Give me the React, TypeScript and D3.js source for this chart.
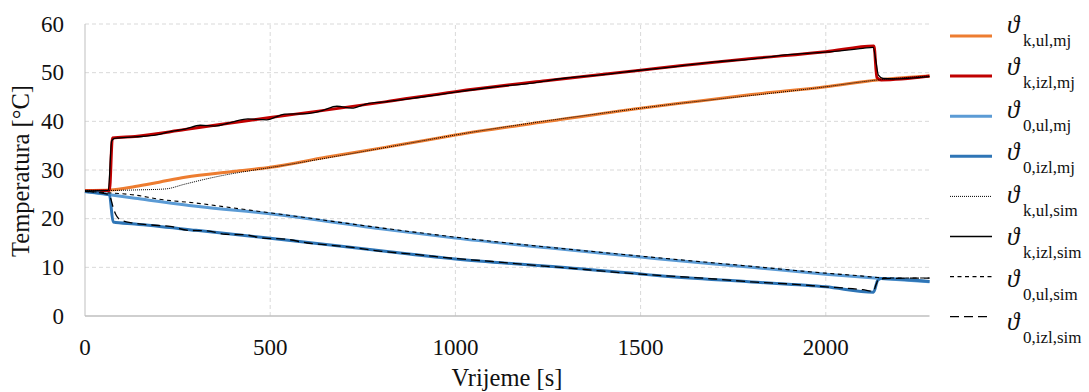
import React from "react";
import * as d3 from "d3";

// ---- data (time [s], temperature [°C]) ----
const tKUlMj = [0, 67, 135, 200, 270, 400, 500, 650, 810, 913, 1000, 1250, 1500, 1606, 1800, 2000, 2140, 2280];
const vKUlMj = [25.8, 25.9, 26.6, 27.5, 28.5, 29.7, 30.55, 32.6, 34.65, 36.0, 37.2, 40.0, 42.7, 43.7, 45.5, 47.1, 48.5, 49.3];

const tKIzlMj = [0, 66, 74, 135, 270, 500, 630, 810, 1000, 1250, 1500, 1606, 1800, 2000, 2130, 2138, 2150, 2280];
const vKIzlMj = [25.7, 25.8, 36.6, 36.9, 38.3, 40.8, 42.1, 44.0, 46.1, 48.4, 50.5, 51.4, 52.9, 54.3, 55.5, 49.0, 48.5, 49.3];

const t0UlMj = [0, 67, 135, 306, 500, 810, 1000, 1250, 1500, 1552, 1800, 2000, 2140, 2280];
const v0UlMj = [25.6, 24.9, 24.2, 22.5, 21.0, 17.8, 16.0, 14.0, 12.1, 11.7, 10.0, 8.6, 7.75, 7.05];

const t0IzlMj = [0, 66, 76, 135, 300, 500, 810, 1000, 1250, 1500, 1552, 1800, 2000, 2129, 2140, 2150, 2280];
const v0IzlMj = [25.6, 24.9, 19.3, 18.9, 17.6, 15.96, 13.3, 11.7, 10.2, 8.63, 8.25, 7.0, 6.0, 4.9, 7.3, 7.7, 7.1];

const tKUlSim = [0, 67, 135, 216, 270, 324, 380, 450, 500, 810, 1000, 1500, 2000, 2140, 2280];
const vKUlSim = [25.8, 25.8, 25.9, 26.1, 27.1, 28.1, 29.0, 29.9, 30.5, 34.6, 37.2, 42.7, 47.1, 48.5, 49.3];

const tKIzlSim = [0, 63, 72, 80, 135, 193, 230, 270, 311, 350, 400, 440, 490, 540, 600, 640, 680, 720, 760, 810, 900, 1000, 1100, 1200, 1300, 1400, 1500, 1600, 1700, 1800, 1900, 2000, 2100, 2128, 2136, 2142, 2155, 2180, 2280];
const vKIzlSim = [25.7, 25.8, 36.0, 36.5, 36.8, 37.2, 37.9, 38.4, 39.2, 39.0, 39.9, 40.5, 40.3, 41.5, 41.6, 42.2, 43.1, 42.7, 43.6, 44.0, 44.9, 46.0, 47.0, 47.8, 48.9, 49.6, 50.5, 51.3, 52.2, 52.8, 53.7, 54.2, 55.0, 55.2, 52.0, 49.5, 48.8, 48.7, 49.2];

const t0UlSim = [0, 67, 135, 200, 306, 400, 500, 810, 1000, 1500, 1800, 2000, 2100, 2140, 2200, 2280];
const v0UlSim = [25.6, 25.3, 24.85, 24.0, 23.15, 22.2, 21.2, 18.0, 16.2, 12.3, 10.2, 8.8, 8.2, 7.9, 7.8, 7.8];

const t0IzlSim = [0, 64, 70, 76, 85, 100, 130, 180, 230, 280, 330, 380, 430, 480, 540, 600, 700, 800, 900, 1000, 1100, 1200, 1300, 1400, 1500, 1600, 1700, 1800, 1900, 2000, 2100, 2128, 2136, 2142, 2160, 2280];
const v0IzlSim = [25.6, 25.0, 24.0, 22.3, 20.6, 19.6, 19.1, 18.7, 18.4, 17.6, 17.5, 16.8, 16.7, 16.0, 15.8, 15.0, 14.3, 13.3, 12.6, 11.8, 11.2, 10.5, 9.9, 9.2, 8.6, 8.1, 7.6, 7.0, 6.6, 6.0, 5.4, 5.1, 6.5, 7.5, 7.7, 7.8];

const xTicks = [0, 500, 1000, 1500, 2000];
const yTicks = [0, 10, 20, 30, 40, 50, 60];
const legendSubs = ["k,ul,mj", "k,izl,mj", "0,ul,mj", "0,izl,mj", "k,ul,sim", "k,izl,sim", "0,ul,sim", "0,izl,sim"];

const series = [
  { t: tKUlMj, v: vKUlMj, color: "#ED7D31", w: 3, dash: "" },
  { t: tKIzlMj, v: vKIzlMj, color: "#C00000", w: 3, dash: "" },
  { t: t0UlMj, v: v0UlMj, color: "#5B9BD5", w: 3, dash: "" },
  { t: t0IzlMj, v: v0IzlMj, color: "#2E75B6", w: 3, dash: "" },
  { t: tKUlSim, v: vKUlSim, color: "#000", w: 1, dash: "1,1" },
  { t: tKIzlSim, v: vKIzlSim, color: "#000", w: 1.3, dash: "" },
  { t: t0UlSim, v: v0UlSim, color: "#000", w: 1.1, dash: "4,3.5" },
  { t: t0IzlSim, v: v0IzlSim, color: "#000", w: 1.3, dash: "9,5" },
];

const FONT = "Liberation Serif, Tinos, serif";

export default function App() {
  const x = d3.scaleLinear().domain([0, 2280]).range([85, 929.5]);
  const y = d3.scaleLinear().domain([0, 60]).range([316, 24]);
  const line = d3
    .line<[number, number]>()
    .x((d) => x(d[0]))
    .y((d) => y(d[1]))
    .curve(d3.curveMonotoneX);

  const txt = { fontFamily: FONT, fill: "#111" } as React.CSSProperties;

  return (
    <svg width={1089} height={392} style={{ position: "absolute", left: 0, top: 0, background: "#fff" }}>
      {/* grid */}
      {yTicks.filter((v) => v > 0).map((v) => (
        <line key={"gy" + v} x1={x(0)} x2={x(2280)} y1={y(v)} y2={y(v)} stroke="#d9d9d9" strokeWidth={1} strokeDasharray="4,3" />
      ))}
      {xTicks.filter((v) => v > 0).map((v) => (
        <line key={"gx" + v} x1={x(v)} x2={x(v)} y1={y(0)} y2={y(60)} stroke="#d9d9d9" strokeWidth={1} strokeDasharray="4,3" />
      ))}
      {/* axes */}
      <line x1={x(0)} x2={x(0)} y1={y(0)} y2={y(60)} stroke="#bfbfbf" strokeWidth={1} />
      <line x1={x(0)} x2={x(2280)} y1={y(0)} y2={y(0)} stroke="#bfbfbf" strokeWidth={1.3} />

      {/* series */}
      {series.map((s, i) => (
        <path
          key={"s" + i}
          d={line(s.t.map((t, j) => [t, s.v[j]] as [number, number])) || ""}
          fill="none"
          stroke={s.color}
          strokeWidth={s.w}
          strokeDasharray={s.dash || undefined}
          strokeLinejoin="round"
        />
      ))}

      {/* tick labels */}
      {yTicks.map((v) => (
        <text key={"ty" + v} x={64} y={y(v) + 7.5} textAnchor="end" style={{ ...txt, fontSize: 23 }}>
          {v}
        </text>
      ))}
      {xTicks.map((v) => (
        <text key={"tx" + v} x={x(v)} y={355} textAnchor="middle" style={{ ...txt, fontSize: 23 }}>
          {v}
        </text>
      ))}
      <text x={507} y={386} textAnchor="middle" style={{ ...txt, fontSize: 24.5 }}>
        Vrijeme [s]
      </text>
      <text transform="translate(29,171) rotate(-90)" textAnchor="middle" style={{ ...txt, fontSize: 24.5 }}>
        Temperatura [°C]
      </text>

      {/* legend */}
      {series.map((s, i) => {
        const ly = 36 + i * 40.1;
        const tb = 33 + i * 42.4;
        return (
          <g key={"l" + i}>
            <line x1={950} x2={992} y1={ly} y2={ly} stroke={s.color} strokeWidth={s.w} strokeDasharray={s.dash || undefined} />
            <text x={1007} y={tb} style={{ ...txt, fontSize: 25, fontStyle: "italic" }}>
              ϑ
            </text>
            <text x={1023} y={tb + 13} style={{ ...txt, fontSize: 17 }}>
              {legendSubs[i]}
            </text>
          </g>
        );
      })}
    </svg>
  );
}
